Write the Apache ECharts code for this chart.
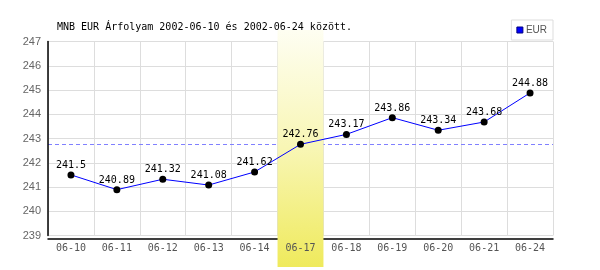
<!DOCTYPE html>
<html><head><meta charset="utf-8">
<script src="https://cdn.jsdelivr.net/npm/echarts@6/dist/echarts.min.js"></script>
<style>html,body{margin:0;padding:0;background:#fff}#c{width:600px;height:270px}</style>
</head><body><div id="c"></div>
<script>
var categories = ['06-10','06-11','06-12','06-13','06-14','06-17','06-18','06-19','06-20','06-21','06-24'];
var eurValues = [241.5,240.89,241.32,241.08,241.62,242.76,243.17,243.86,243.34,243.68,244.88];
var highlightCategory = '06-17';
var referenceValue = 242.76;
var titleText = 'MNB EUR Árfolyam 2002-06-10 és 2002-06-24 között.';
var seriesName = 'EUR';

var chart = echarts.init(document.getElementById('c'), null, {renderer:'canvas'});
var mono = 'DejaVu Sans Mono';
chart.setOption({
  animation:false,
  backgroundColor:'#fff',
  title:{text:titleText,left:52,top:17,textStyle:{fontFamily:mono,fontSize:10,fontWeight:'normal',color:'#000'}},
  legend:{data:[{name:seriesName,itemStyle:{color:'#0000ff',borderColor:'#000080',borderWidth:1}}],right:47,top:20,
    orient:'horizontal',icon:'rect',itemWidth:6,itemHeight:6,itemGap:4,padding:[5,6,5,5],
    borderColor:'#dddddd',borderWidth:1,backgroundColor:'#fff',
    textStyle:{fontFamily:'Liberation Sans',fontSize:10,color:'#555',padding:[0,0,0,-2]}},
  grid:{left:48,right:47,top:41.5,bottom:34.5,containLabel:false},
  xAxis:[
   {type:'category',data:categories,boundaryGap:true,offset:3,z:0,
    axisLine:{show:true,lineStyle:{color:'#000',width:1.5}},
    axisTick:{show:false},
    axisLabel:{show:false},
    splitLine:{show:true,interval:0,lineStyle:{color:'#dddddd',width:1}}},
   {type:'category',data:categories,boundaryGap:true,offset:3,position:'bottom',z:5,
    axisLine:{show:false},axisTick:{show:false},splitLine:{show:false},
    axisLabel:{fontFamily:mono,fontSize:10,color:'#555',margin:5}}],
  yAxis:{type:'value',min:239,max:247,interval:1,
    axisLine:{show:true,lineStyle:{color:'#000',width:1.5}},
    axisTick:{show:false},
    axisLabel:{fontFamily:'Liberation Sans',fontSize:11,color:'#666',margin:7},
    splitLine:{show:true,lineStyle:{color:'#dddddd',width:1}}},
  series:[
    {name:seriesName,type:'line',data:eurValues,z:3,
     symbol:'circle',symbolSize:7,
     itemStyle:{color:'#000'},
     lineStyle:{color:'#0000ff',width:1},
     label:{show:true,position:'top',distance:1,fontFamily:mono,fontSize:10,color:'#000'}},
    {name:'ref',type:'line',data:[],z:0,
     markLine:{z:0,silent:true,symbol:'none',label:{show:false},
       lineStyle:{color:'#8080ff',type:[4,3],width:1},
       data:[{yAxis:referenceValue}]}}
  ]
});

function drawBand(){
  var c0 = chart.convertToPixel({xAxisIndex:0}, highlightCategory);
  var idx = categories.indexOf(highlightCategory);
  var c1 = chart.convertToPixel({xAxisIndex:0}, categories[idx+1]);
  var step = c1 - c0;
  var yTop = chart.convertToPixel({yAxisIndex:0}, 247) - 11.5;
  var yBot = 267;
  chart.setOption({graphic:[{type:'rect',z:1,silent:true,
    shape:{x:c0-step/2,y:yTop,width:step,height:yBot-yTop},
    style:{fill:new echarts.graphic.LinearGradient(0,0,0,1,[
      {offset:0,color:'#fefef2'},{offset:0.5,color:'#f8f6b4'},{offset:1,color:'#efea5c'}])}}]});
}
drawBand();
</script></body></html>
